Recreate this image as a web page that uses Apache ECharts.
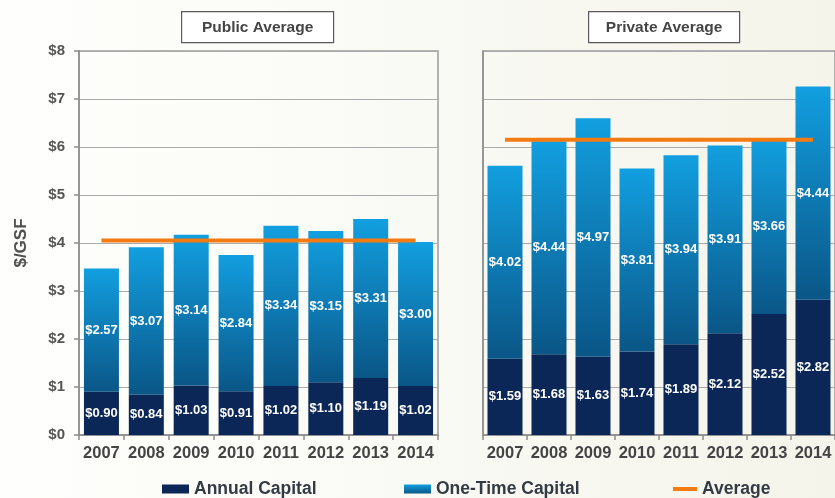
<!DOCTYPE html>
<html>
<head>
<meta charset="utf-8">
<style>
  html, body { margin: 0; padding: 0; }
  #chart {
    width: 835px; height: 498px;
    background: linear-gradient(to right, #fefefc 0%, #fafaf5 50%, #f4f4ea 100%);
  }
</style>
<script src="https://cdn.jsdelivr.net/npm/echarts@6/dist/echarts.min.js"></script>
</head>
<body>
<div id="chart"></div>
<script>
// Capital renewal spending per gross square foot, by year
const years = ['2007', '2008', '2009', '2010', '2011', '2012', '2013', '2014'];

const publicAnnual  = [0.90, 0.84, 1.03, 0.91, 1.02, 1.10, 1.19, 1.02];
const publicOneTime = [2.57, 3.07, 3.14, 2.84, 3.34, 3.15, 3.31, 3.00];
const publicAverage = [4.05, 4.05, 4.05, 4.05, 4.05, 4.05, 4.05, 4.05];

const privateAnnual  = [1.59, 1.68, 1.63, 1.74, 1.89, 2.12, 2.52, 2.82];
const privateOneTime = [4.02, 4.44, 4.97, 3.81, 3.94, 3.91, 3.66, 4.44];
const privateAverage = [6.15, 6.15, 6.15, 6.15, 6.15, 6.15, 6.15, 6.15];

const yTicks = [0, 1, 2, 3, 4, 5, 6, 7, 8];

const FONT = '"Liberation Sans", Arial, sans-serif';
const ANNUAL_COLOR = '#0b2757';
const ONE_TIME_COLOR = new echarts.graphic.LinearGradient(0, 0, 0, 1, [
  { offset: 0, color: '#129fe0' },
  { offset: 1, color: '#0a5687' }
]);
const AVG_COLOR = '#f47a12';

const money = v => '$' + v.toFixed(2);

function xAxis(gridIndex) {
  return {
    type: 'category', gridIndex, data: years,
    axisLine: { show: true, lineStyle: { color: '#8c8c8c', width: 1.5 } },
    axisTick: { show: true, length: 5, lineStyle: { color: '#8c8c8c', width: 1.5 } },
    axisLabel: { interval: 0, color: '#444444', fontFamily: FONT, fontWeight: 'bold', fontSize: 16.5, margin: 10 }
  };
}

function yAxis(gridIndex, withLabels) {
  return {
    type: 'value', gridIndex, min: yTicks[0], max: yTicks[yTicks.length - 1], interval: 1,
    name: withLabels ? '$/GSF' : '',
    nameLocation: 'middle', nameGap: 49,
    nameTextStyle: { color: '#505050', fontFamily: FONT, fontWeight: 'bold', fontSize: 17 },
    axisLine: { show: true, lineStyle: { color: '#8c8c8c', width: 1.5 } },
    axisTick: { show: withLabels, length: 5, lineStyle: { color: '#8c8c8c', width: 1.5 } },
    axisLabel: {
      show: withLabels, color: '#555555', fontFamily: FONT, fontWeight: 'bold', fontSize: 15, margin: 14,
      formatter: v => '$' + v
    },
    splitLine: { show: true, lineStyle: { color: '#ababab', width: 1.2 } }
  };
}

const barLabel = {
  show: true, position: 'inside', color: '#ffffff',
  fontFamily: FONT, fontWeight: 'bold', fontSize: 13,
  formatter: p => money(p.value)
};

function panelSeries(idx, annual, oneTime, average) {
  return [
    {
      name: 'Annual Capital', type: 'bar', stack: 'cap' + idx,
      xAxisIndex: idx, yAxisIndex: idx, data: annual, barWidth: 35,
      itemStyle: { color: ANNUAL_COLOR }, label: barLabel
    },
    {
      name: 'One-Time Capital', type: 'bar', stack: 'cap' + idx,
      xAxisIndex: idx, yAxisIndex: idx, data: oneTime, barWidth: 35,
      itemStyle: { color: ONE_TIME_COLOR }, label: barLabel
    },
    {
      name: 'Average', type: 'line', xAxisIndex: idx, yAxisIndex: idx,
      data: average, symbol: 'none', z: 5,
      lineStyle: { color: AVG_COLOR, width: 4 },
      itemStyle: { color: AVG_COLOR }
    }
  ];
}

function titleBox(x, w, text) {
  return {
    type: 'group', left: x, top: 11,
    children: [
      { type: 'rect', shape: { x: 0, y: 0, width: w, height: 31 },
        style: { fill: '#ffffff', stroke: '#5a5a5a', lineWidth: 1.2 } },
      { type: 'text', x: w / 2, y: 16,
        style: { text, fill: '#454545', font: 'bold 15.5px ' + FONT, align: 'center', verticalAlign: 'middle' } }
    ]
  };
}

const legendText = { color: '#333a44', fontFamily: FONT, fontWeight: 'bold', fontSize: 17.5 };
const legendBase = { top: 480, padding: 0, itemGap: 0, selectedMode: false, icon: 'rect', textStyle: legendText };

const chart = echarts.init(document.getElementById('chart'), null, { renderer: 'canvas' });
chart.setOption({
  backgroundColor: 'transparent',
  animation: false,
  grid: [
    { left: 79, top: 51, width: 359, height: 384, show: true, borderColor: '#9a9a9a', borderWidth: 1.5 },
    { left: 483, top: 51, width: 359, height: 384, show: true, borderColor: '#9a9a9a', borderWidth: 1.5 }
  ],
  xAxis: [xAxis(0), xAxis(1)],
  yAxis: [yAxis(0, true), yAxis(1, false)],
  legend: [
    Object.assign({ data: ['Annual Capital'], left: 162, itemWidth: 27, itemHeight: 9 }, legendBase),
    Object.assign({ data: ['One-Time Capital'], left: 404, itemWidth: 27, itemHeight: 9 }, legendBase),
    Object.assign({ data: ['Average'], left: 673, itemWidth: 24, itemHeight: 4 }, legendBase)
  ],
  graphic: [
    titleBox(181, 152, 'Public Average'),
    titleBox(588, 151, 'Private Average')
  ],
  series: [
    ...panelSeries(0, publicAnnual, publicOneTime, publicAverage),
    ...panelSeries(1, privateAnnual, privateOneTime, privateAverage)
  ]
});
</script>
</body>
</html>
